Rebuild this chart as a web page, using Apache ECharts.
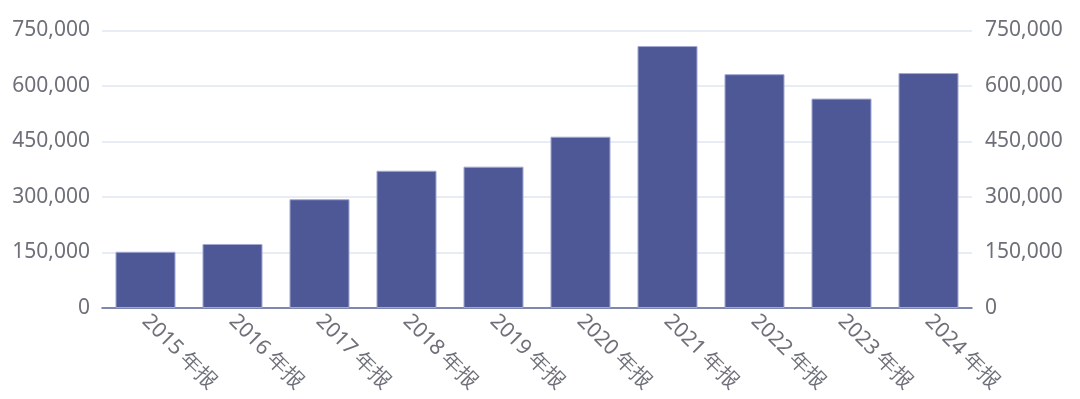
<!DOCTYPE html>
<html>
<head>
<meta charset="utf-8">
<script src="https://cdn.jsdelivr.net/npm/echarts@6/dist/echarts.min.js"></script>
<style>html,body{margin:0;padding:0;background:#fff;}#c{width:1080px;height:399px;}</style>
</head>
<body>
<div id="c"></div>
<script>
const categories = ['2015 年报','2016 年报','2017 年报','2018 年报','2019 年报','2020 年报','2021 年报','2022 年报','2023 年报','2024 年报'];
const values = [152000, 173000, 294000, 371000, 382000, 463000, 708000, 632000, 566000, 635000];
const yMin = 0, yMax = 750000, yInterval = 150000;

const chart = echarts.init(document.getElementById('c'));
const labelStyle = { color: '#6e7079', fontSize: 21, fontFamily: 'Noto Sans, sans-serif' };
const fmt = v => v.toLocaleString('en-US');
chart.setOption({
  animation: false,
  grid: { left: 102, right: 108, top: 30.5, bottom: 91, containLabel: false },
  xAxis: {
    type: 'category',
    data: categories,
    axisTick: { show: false },
    axisLine: { lineStyle: { color: '#5b6596', width: 1.5 } },
    axisLabel: Object.assign({ rotate: -45, margin: 10, interval: 0 }, labelStyle)
  },
  yAxis: [
    { type: 'value', min: yMin, max: yMax, interval: yInterval, position: 'left',
      axisLabel: Object.assign({ formatter: fmt, margin: 12 }, labelStyle),
      splitLine: { lineStyle: { color: '#e0e6f1', width: 1.5 } },
      axisLine: { show: false }, axisTick: { show: false } },
    { type: 'value', min: yMin, max: yMax, interval: yInterval, position: 'right',
      axisLabel: Object.assign({ formatter: fmt, margin: 13 }, labelStyle),
      splitLine: { show: false },
      axisLine: { show: false }, axisTick: { show: false } }
  ],
  series: [{
    type: 'bar',
    data: values,
    barCategoryGap: '31%',
    itemStyle: { color: '#4e5897', borderColor: '#a3a9d2', borderWidth: 1 }
  }]
});
</script>
</body>
</html>
